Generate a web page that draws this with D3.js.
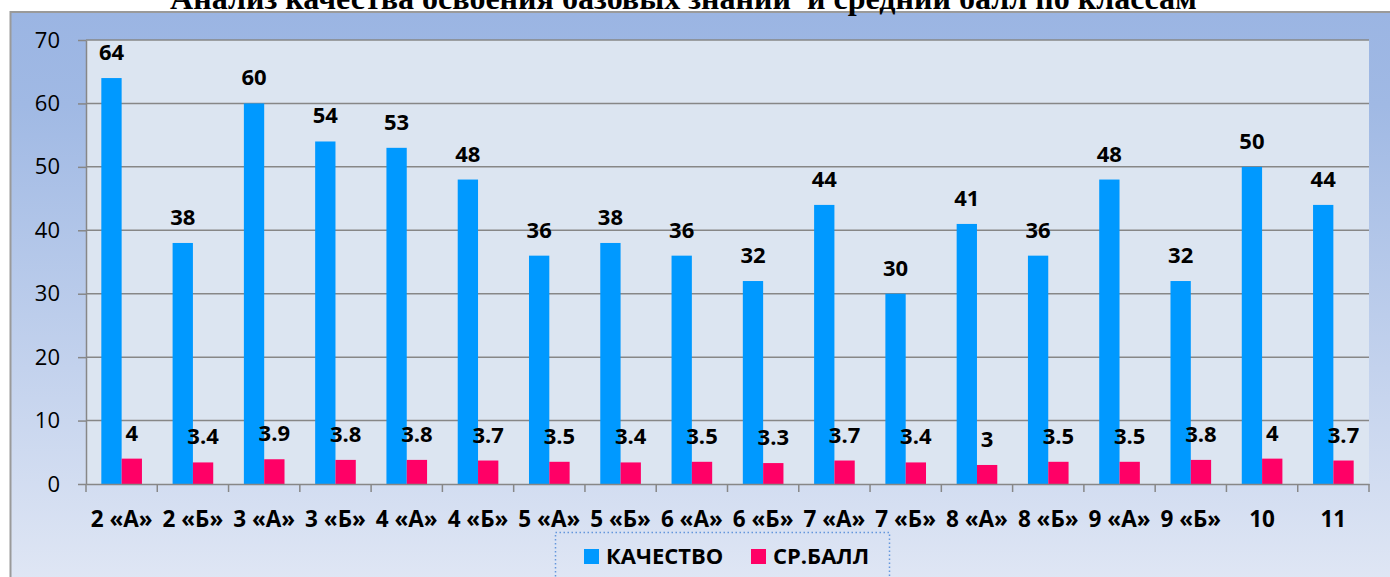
<!DOCTYPE html>
<html>
<head>
<meta charset="utf-8">
<script src="https://cdn.jsdelivr.net/npm/d3@7"></script>
<style>
  body { margin: 0; background: #fff; overflow: hidden; }
  text { font-family: "Open Sans", "Noto Sans", sans-serif; }
</style>
</head>
<body>
<div id="chart"></div>
<script>
// data
const classes = ["2 «А»", "2 «Б»", "3 «А»", "3 «Б»", "4 «А»", "4 «Б»", "5 «А»", "5 «Б»", "6 «А»",
                 "6 «Б»", "7 «А»", "7 «Б»", "8 «А»", "8 «Б»", "9 «А»", "9 «Б»", "10", "11"];
const quality = [64, 38, 60, 54, 53, 48, 36, 38, 36, 32, 44, 30, 41, 36, 48, 32, 50, 44];
const avgScore = [4, 3.4, 3.9, 3.8, 3.8, 3.7, 3.5, 3.4, 3.5, 3.3, 3.7, 3.4, 3, 3.5, 3.5, 3.8, 4, 3.7];
const seriesNames = ["КАЧЕСТВО", "СР.БАЛЛ"];
const seriesColors = ["#0099ff", "#ff0066"];
const yTicks = [0, 10, 20, 30, 40, 50, 60, 70];
const title = "Анализ качества освоения базовых знаний  и средний балл по классам";

const W = 1390, H = 577;
const plot = {left: 86, right: 1369, top: 40, bottom: 484};

const svg = d3.select("#chart").append("svg")
    .attr("width", W)
    .attr("height", H);

// background gradient of the chart frame
const defs = svg.append("defs");
const grad = defs.append("linearGradient")
    .attr("id", "bg").attr("x1", 0).attr("y1", 0).attr("x2", 0).attr("y2", 1);
grad.append("stop").attr("offset", "0").attr("stop-color", "#9bb5e3");
grad.append("stop").attr("offset", "0.15").attr("stop-color", "#a0b9e4");
grad.append("stop").attr("offset", "1").attr("stop-color", "#e6ebf6");

svg.append("rect")
    .attr("x", 10.5).attr("y", 12)
    .attr("width", 1420).attr("height", 620)
    .attr("fill", "url(#bg)")
    .attr("stroke", "#9a9a9a")
    .attr("stroke-width", 2);

// title, mostly cut off at the top
const t = svg.append("text")
    .attr("x", 683.5).attr("y", 9)
    .attr("text-anchor", "middle")
    .style("font-family", "'Liberation Serif', 'Times New Roman', serif")
    .style("font-weight", "bold")
    .style("white-space", "pre")
    .style("font-size", "24px")
    .text(title);
const tLen = t.node().getComputedTextLength();
t.style("font-size", (24 * 1027 / tLen) + "px");

// plot area
svg.append("rect")
    .attr("x", plot.left).attr("y", plot.top)
    .attr("width", plot.right - plot.left).attr("height", plot.bottom - plot.top)
    .attr("fill", "#dce5f1");

const x = d3.scaleBand()
    .domain(classes)
    .range([plot.left, plot.right])
    .padding(0);

const bw = x.bandwidth();
const xInner = d3.scaleBand()
    .domain(seriesNames)
    .range([bw * 0.215, bw * 0.785])
    .padding(0);

const y = d3.scaleLinear()
    .domain([0, 70])
    .range([plot.bottom, plot.top]);

// gridlines
svg.append("g")
    .selectAll("line")
    .data(yTicks.filter(d => d > 0))
  .enter().append("line")
    .attr("x1", plot.left).attr("x2", plot.right)
    .attr("y1", d => y(d)).attr("y2", d => y(d))
    .attr("stroke", "#878787")
    .attr("stroke-width", 1.5);

// bars
const rows = classes.map((c, i) => ({name: c, values: [quality[i], avgScore[i]]}));

const groups = svg.append("g")
    .selectAll("g")
    .data(rows)
  .enter().append("g")
    .attr("transform", d => "translate(" + x(d.name) + ",0)");

groups.selectAll("rect")
    .data(d => d.values.map((v, k) => ({key: seriesNames[k], value: v, color: seriesColors[k]})))
  .enter().append("rect")
    .attr("x", d => xInner(d.key))
    .attr("width", xInner.bandwidth())
    .attr("y", d => y(d.value))
    .attr("height", d => plot.bottom - y(d.value))
    .attr("fill", d => d.color);

groups.selectAll("text")
    .data(d => d.values.map((v, k) => ({key: seriesNames[k], value: v})))
  .enter().append("text")
    .attr("x", d => xInner(d.key) + xInner.bandwidth() / 2)
    .attr("y", d => y(d.value) - 18)
    .attr("text-anchor", "middle")
    .style("font-size", "22px")
    .style("font-weight", "bold")
    .attr("fill", "#000")
    .text(d => d.value);

// y axis
const yAxis = svg.append("g")
    .attr("transform", "translate(" + plot.left + ",0)")
    .call(d3.axisLeft(y).tickValues(yTicks).tickSizeInner(8).tickSizeOuter(0).tickPadding(18));
yAxis.select(".domain").attr("stroke", "#878787").attr("stroke-width", 1.5);
yAxis.selectAll(".tick line").attr("stroke", "#878787").attr("stroke-width", 1.5);
yAxis.selectAll(".tick text")
    .style("font-size", "22px")
    .style("font-family", "'Open Sans', sans-serif")
    .attr("fill", "#000");

// x axis: labels at band centres, ticks at band edges
const xAxis = svg.append("g")
    .attr("transform", "translate(0," + plot.bottom + ")")
    .call(d3.axisBottom(x).tickSize(0).tickPadding(27));
xAxis.select(".domain").attr("stroke", "#878787").attr("stroke-width", 1.5);
xAxis.selectAll(".tick text")
    .style("font-size", "22.5px")
    .style("font-weight", "bold")
    .style("font-family", "'Open Sans', sans-serif")
    .attr("fill", "#000");

xAxis.selectAll(".edge")
    .data(classes.map(c => x(c)).concat([x.range()[1]]))
  .enter().append("line")
    .attr("class", "edge")
    .attr("x1", d => d).attr("x2", d => d)
    .attr("y1", 0).attr("y2", 8)
    .attr("stroke", "#878787")
    .attr("stroke-width", 1.5);

// legend
const legend = svg.append("g");
legend.append("rect")
    .attr("x", 555.5).attr("y", 532.5)
    .attr("width", 334).attr("height", 80)
    .attr("fill", "none")
    .attr("stroke", "#6496dc")
    .attr("stroke-width", 1.5)
    .attr("stroke-dasharray", "1.5,2.5");

const legendX = [584, 751];
seriesNames.forEach((name, i) => {
  legend.append("rect")
      .attr("x", legendX[i]).attr("y", 549)
      .attr("width", 15).attr("height", 15)
      .attr("fill", seriesColors[i]);
  legend.append("text")
      .attr("x", legendX[i] + 22).attr("y", 564)
      .style("font-size", "22px")
      .style("font-weight", "bold")
      .attr("fill", "#000")
      .text(name);
});
</script>
</body>
</html>
